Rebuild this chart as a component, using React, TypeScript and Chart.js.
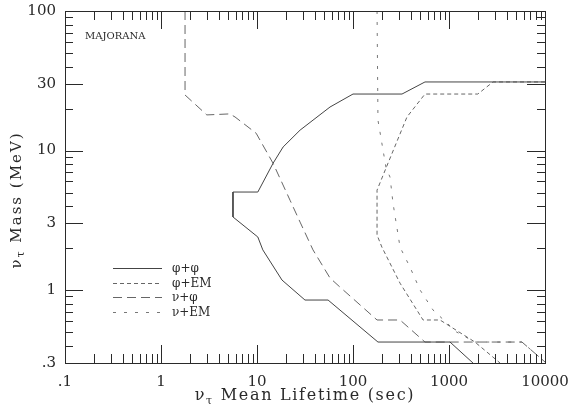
import React, { useEffect, useRef } from "react";
import { Chart, registerables } from "chart.js";

Chart.register(...registerables);

// ---- axis ticks ----
const xTickValues = [0.1, 1, 10, 100, 1000, 10000];
const xTickLabels = [".1", "1", "10", "100", "1000", "10000"];
const yTickValues = [0.3, 1, 3, 10, 30, 100];
const yTickLabels = [".3", "1", "3", "10", "30", "100"];

// ---- series ----
const seriesLabels = ["φ+φ", "φ+EM", "ν+φ", "ν+EM"];

// φ+φ (solid)
const phiPhiLifetime = [10000, 562, 324, 100, 57.6, 28.1, 18.7, 14.7, 10.2, 5.62, 5.62, 10.2, 11.5, 18.2, 31.6, 55, 182, 1024, 1778];
const phiPhiMass = [31, 31, 25.4, 25.4, 20.5, 14.0, 10.6, 8.1, 5.04, 5.04, 3.34, 2.4, 1.94, 1.18, 0.848, 0.848, 0.424, 0.424, 0.3];

// φ+EM (short dash)
const phiEmLifetime = [10000, 2874, 1995, 562, 365, 221, 178, 178, 200, 309, 537, 806, 1862, 3400];
const phiEmMass = [31, 31, 25.4, 25.4, 17.4, 7.5, 5.2, 2.48, 2.03, 1.12, 0.61, 0.61, 0.424, 0.3];

// ν+φ (long dash)
const nuPhiLifetime = [1.78, 1.78, 3.0, 5.2, 5.9, 9.8, 14.7, 22.1, 28.1, 38.3, 57.6, 73.2, 178, 309, 562, 5754, 10000];
const nuPhiMass = [100, 25, 18.0, 18.3, 17.4, 13.3, 8.1, 4.4, 3.07, 1.94, 1.22, 1.05, 0.61, 0.61, 0.424, 0.424, 0.305];

// ν+EM (sparse dots)
const nuEmLifetime = [178, 182, 221, 243, 261, 309, 392, 500, 681, 1200, 1862, 5754, 10000];
const nuEmMass = [100, 16.5, 7.5, 6.45, 4.2, 2.03, 1.46, 1.0, 0.72, 0.5, 0.424, 0.424, 0.305];

const FONT = "'DejaVu Serif', serif";
const INK = "#2a2a2a";

const lineStyles = [
  { color: "#444", dash: [] as number[] },
  { color: "#666", dash: [4, 3] },
  { color: "#666", dash: [9, 5] },
  { color: "#777", dash: [3, 8] },
];

function zip(xs: number[], ys: number[]) {
  return xs.map((x, i) => ({ x, y: ys[i] }));
}

function drawRuns(
  ctx: CanvasRenderingContext2D,
  runs: { t: string; sub?: boolean }[],
  cx: number,
  cy: number,
  size: number,
  spacing: number
) {
  const c: any = ctx;
  c.letterSpacing = `${spacing}px`;
  const widths = runs.map((r) => {
    ctx.font = `${r.sub ? Math.round(size * 0.7) : size}px ${FONT}`;
    return ctx.measureText(r.t).width;
  });
  const total = widths.reduce((a, b) => a + b, 0);
  let x = cx - total / 2;
  runs.forEach((r, i) => {
    ctx.font = `${r.sub ? Math.round(size * 0.7) : size}px ${FONT}`;
    ctx.fillText(r.t, x, cy + (r.sub ? size * 0.3 : 0));
    x += widths[i];
  });
  c.letterSpacing = "0px";
}

const decorPlugin = {
  id: "decor",
  afterDatasetsDraw(chart: any) {
    const { ctx, chartArea, scales } = chart;
    const { left, right, top, bottom } = chartArea;
    const xs = scales.x;
    const ys = scales.y;
    ctx.save();
    ctx.strokeStyle = INK;
    ctx.lineWidth = 1;
    ctx.setLineDash([]);
    ctx.strokeRect(Math.round(left) + 0.5, Math.round(top) + 0.5, Math.round(right - left), Math.round(bottom - top));

    // x ticks (inward, bottom & top)
    ctx.beginPath();
    for (let d = -1; d <= 4; d++) {
      for (let m = 1; m <= 9; m++) {
        const v = m * Math.pow(10, d);
        if (v < 0.1 * 0.999 || v > 10000 * 1.001) continue;
        const px = Math.round(xs.getPixelForValue(v)) + 0.5;
        const len = m === 1 ? 18 : 9;
        ctx.moveTo(px, bottom);
        ctx.lineTo(px, bottom - len);
        ctx.moveTo(px, top);
        ctx.lineTo(px, top + len);
      }
    }
    // y ticks (inward, left & right)
    for (let d = -1; d <= 2; d++) {
      for (let m = 1; m <= 9; m++) {
        const v = m * Math.pow(10, d);
        if (v < 0.3 * 0.999 || v > 100 * 1.001) continue;
        const py = Math.round(ys.getPixelForValue(v)) + 0.5;
        const len = m === 1 || m === 3 ? 18 : 8;
        ctx.moveTo(left, py);
        ctx.lineTo(left + len, py);
        ctx.moveTo(right, py);
        ctx.lineTo(right - len, py);
      }
    }
    ctx.stroke();

    // MAJORANA label
    ctx.fillStyle = INK;
    ctx.textBaseline = "middle";
    ctx.textAlign = "left";
    ctx.font = `10px ${FONT}`;
    ctx.fillText("MAJORANA", left + 20, top + 25);

    // legend
    const lx0 = left + 48;
    const lx1 = left + 97;
    const tx = left + 107;
    const rows = [top + 257, top + 272, top + 286, top + 301];
    chart.data.datasets.forEach((ds: any, i: number) => {
      const yy = Math.round(rows[i]) + 0.5;
      ctx.strokeStyle = ds.borderColor;
      ctx.setLineDash(ds.borderDash || []);
      ctx.beginPath();
      ctx.moveTo(lx0, yy);
      ctx.lineTo(lx1, yy);
      ctx.stroke();
      ctx.setLineDash([]);
      ctx.fillStyle = INK;
      ctx.font = `12px ${FONT}`;
      ctx.fillText(ds.label, tx, yy);
    });

    // axis titles
    ctx.fillStyle = INK;
    ctx.textAlign = "left";
    ctx.textBaseline = "middle";
    drawRuns(ctx, [{ t: "ν" }, { t: "τ", sub: true }, { t: " Mean Lifetime (sec)" }], (left + right) / 2, 396, 16, 1.7);

    ctx.save();
    ctx.translate(17, 200);
    ctx.rotate(-Math.PI / 2);
    drawRuns(ctx, [{ t: "ν" }, { t: "τ", sub: true }, { t: " Mass (MeV)" }], 0, 0, 15, 2);
    ctx.restore();

    ctx.restore();
  },
};

export default function App() {
  const ref = useRef<HTMLCanvasElement | null>(null);

  useEffect(() => {
    if (!ref.current) return;
    const seriesData = [
      zip(phiPhiLifetime, phiPhiMass),
      zip(phiEmLifetime, phiEmMass),
      zip(nuPhiLifetime, nuPhiMass),
      zip(nuEmLifetime, nuEmMass),
    ];
    const chart = new Chart(ref.current, {
      type: "scatter",
      data: {
        datasets: seriesData.map((data, i) => ({
          label: seriesLabels[i],
          data,
          showLine: true,
          borderColor: lineStyles[i].color,
          borderDash: lineStyles[i].dash,
          borderWidth: 1,
          pointRadius: 0,
          fill: false,
          tension: 0,
        })),
      },
      options: {
        animation: false,
        responsive: true,
        maintainAspectRatio: false,
        layout: { padding: { top: 11, right: 31, left: 0, bottom: 0 } },
        plugins: { legend: { display: false }, tooltip: { enabled: false } },
        scales: {
          x: {
            type: "logarithmic",
            min: 0.1,
            max: 10000,
            grid: { display: false, drawTicks: false },
            border: { display: true, color: INK },
            afterBuildTicks: (s: any) => {
              s.ticks = xTickValues.map((v) => ({ value: v }));
            },
            afterFit: (s: any) => {
              s.height = 45;
              s.paddingLeft = 0;
              s.paddingRight = 0;
            },
            ticks: {
              autoSkip: false,
              maxRotation: 0,
              padding: 10,
              color: INK,
              font: { family: FONT, size: 15 },
              callback: (v: any) => {
                const i = xTickValues.findIndex((t) => Math.abs(t - Number(v)) < t * 1e-6);
                return i >= 0 ? xTickLabels[i] : "";
              },
            },
          },
          y: {
            type: "logarithmic",
            min: 0.3,
            max: 100,
            grid: { display: false, drawTicks: false },
            border: { display: true, color: INK },
            afterBuildTicks: (s: any) => {
              s.ticks = yTickValues.map((v) => ({ value: v }));
            },
            afterFit: (s: any) => {
              s.width = 65;
              s.paddingTop = 0;
              s.paddingBottom = 0;
            },
            ticks: {
              autoSkip: false,
              padding: 9,
              color: INK,
              font: { family: FONT, size: 15 },
              callback: (v: any) => {
                const i = yTickValues.findIndex((t) => Math.abs(t - Number(v)) < t * 1e-6);
                return i >= 0 ? yTickLabels[i] : "";
              },
            },
          },
        },
      },
      plugins: [decorPlugin],
    });
    return () => chart.destroy();
  }, []);

  return (
    <div style={{ position: "absolute", left: 0, top: 0, width: 576, height: 408, background: "#fff" }}>
      <canvas ref={ref} />
    </div>
  );
}
